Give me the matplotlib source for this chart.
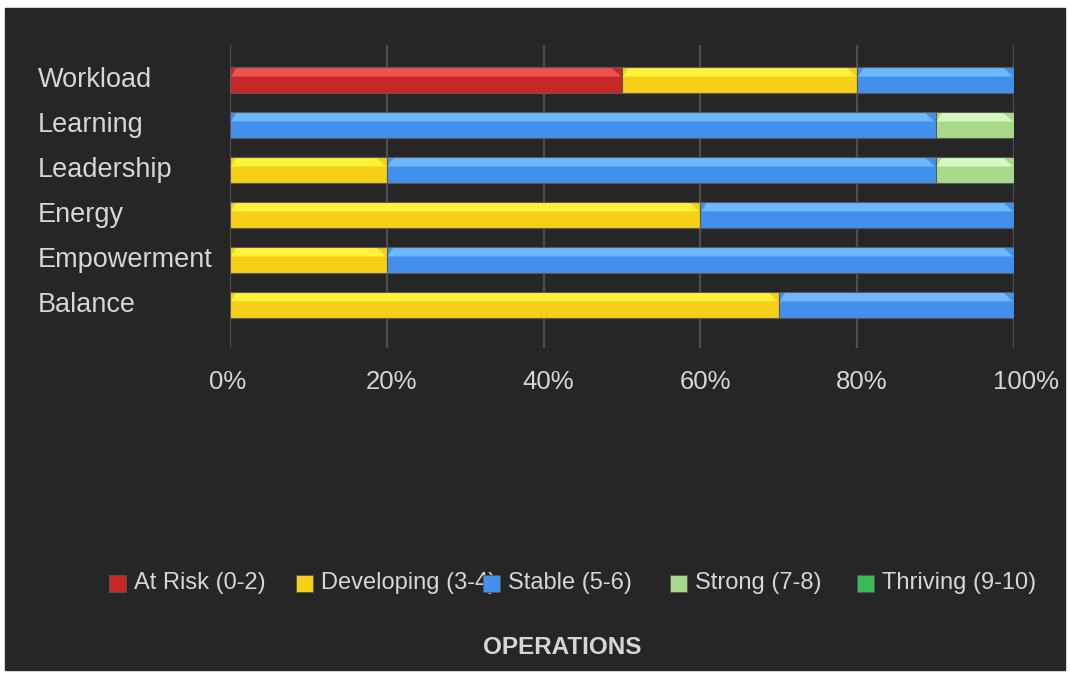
import matplotlib.pyplot as plt
from matplotlib.patches import Polygon, Rectangle
from matplotlib.transforms import blended_transform_factory, offset_copy
import numpy as np

plt.rcParams['font.family'] = ['Liberation Sans', 'DejaVu Sans']

categories = ['Workload', 'Learning', 'Leadership', 'Energy', 'Empowerment', 'Balance']
levels = ['At Risk (0-2)', 'Developing (3-4)', 'Stable (5-6)', 'Strong (7-8)', 'Thriving (9-10)']
at_risk = [50, 0, 0, 0, 0, 0]
developing = [30, 0, 20, 60, 20, 70]
stable = [20, 90, 70, 40, 80, 30]
strong = [0, 10, 10, 0, 0, 0]
thriving = [0, 0, 0, 0, 0, 0]
xticks = [0, 20, 40, 60, 80, 100]
title = 'OPERATIONS'

base_colors = ['#c62828', '#f5cf18', '#4290ec', '#a8d98b', '#3cba54']
light_colors = ['#ef5350', '#fff23a', '#6eb8ff', '#d3f8c0', '#6fdc85']
bg = '#262626'
txt = '#d6d6d6'
grid = '#4e4e4e'

W, H = 1070, 675
fig = plt.figure(figsize=(W / 100, H / 100), dpi=100, facecolor='white')
fig.patches.append(Rectangle((5 / W, 1 - 670 / H), 1060 / W, 662 / H,
                             transform=fig.transFigure, color=bg, zorder=-5))

ax = fig.add_axes([230 / W, 1 - 348 / H, 784 / W, 303 / H])
ax.set_facecolor('none')
ax.set_xlim(0, 100)
ax.set_ylim(5.96, -0.78)
for s in ax.spines.values():
    s.set_visible(False)

for xv in xticks:
    ax.axvline(xv, color=grid, lw=1.6, zorder=0)

ax.set_xticks([])
ax.set_yticks([])

# percent labels sit a little left of their gridline, left aligned
xlab_trans = offset_copy(blended_transform_factory(ax.transData, fig.transFigure),
                         fig=fig, x=-21, y=0, units='dots')
for xv in xticks:
    ax.text(xv, 1 - 370 / H, f'{xv}%', transform=xlab_trans, ha='left', va='top',
            color=txt, fontsize=18.5)

# category labels are left aligned against the frame edge
trans = blended_transform_factory(fig.transFigure, ax.transData)
for i, c in enumerate(categories):
    ax.text(38 / W, i, c, transform=trans, ha='left', va='center',
            color=txt, fontsize=19.5)

# stacked bars with a bevelled highlight strip on top
series = [at_risk, developing, stable, strong, thriving]
px_x = 100 / 784
px_y = 1 / 45
bar_h = 26 * px_y
y = np.arange(len(categories))
left = np.zeros(len(categories))
for k, vals in enumerate(series):
    vals = np.array(vals, dtype=float)
    for i in range(len(categories)):
        if vals[i] <= 0:
            continue
        ax.barh(y[i], vals[i], left=left[i], height=bar_h, color=base_colors[k],
                edgecolor='#5a5a5a', linewidth=0.8, zorder=2)
        x0, x1 = left[i] + px_x, left[i] + vals[i] - px_x
        top = y[i] - bar_h / 2 + 1.2 * px_y
        bot = y[i] - bar_h / 2 + 9.5 * px_y
        ax.add_patch(Polygon([(x0, bot), (x0 + 5 * px_x, top),
                              (x1 - 9 * px_x, top), (x1, bot)],
                             closed=True, facecolor=light_colors[k],
                             edgecolor='none', zorder=3))
    left += vals

# legend row
for k, lab in enumerate(levels):
    sx = 109 + 187 * k
    fig.patches.append(Rectangle((sx / W, 1 - 592 / H), 17 / W, 17 / H,
                                 transform=fig.transFigure, facecolor=base_colors[k],
                                 edgecolor='#555555', linewidth=0.6, zorder=3 + k))
    fig.text((sx + 25) / W, 1 - 583 / H, lab, ha='left', va='center',
             color=txt, fontsize=17, zorder=3 + k)

fig.text(562 / W, 1 - 648 / H, title, ha='center', va='center',
         color=txt, fontsize=17.5, fontweight='bold')

fig.savefig('out.png', dpi=100, facecolor='white')
